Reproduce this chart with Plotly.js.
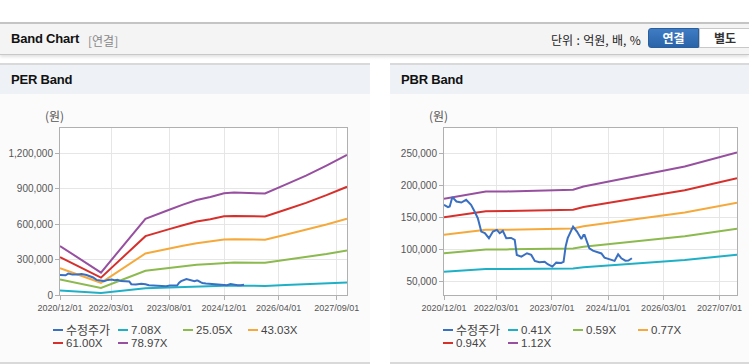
<!DOCTYPE html>
<html>
<head>
<meta charset="utf-8">
<script src="https://cdn.plot.ly/plotly-3.0.1.min.js"></script>
<style>
  html, body { margin:0; padding:0; background:#ffffff; width:749px; height:364px; overflow:hidden;
    font-family: "Liberation Sans", "Noto Sans CJK KR", sans-serif; }
  .abs { position:absolute; }
  #topbar { left:0; top:22px; width:749px; height:30px; background:#f4f4f4;
    border-top:2px solid #c4c4c4; border-bottom:1px solid #c8c8c8; box-shadow:0 2px 3px rgba(0,0,0,0.12); }
  #ttl { left:11px; top:31px; font-size:13px; font-weight:bold; color:#111; letter-spacing:-0.2px; }
  #ttl2 { left:88px; top:32px; font-size:12px; color:#888; font-family:"Noto Sans CJK KR", sans-serif; }
  #unit { left:551px; top:31px; font-size:12px; color:#222; font-family:"Noto Sans CJK KR", sans-serif; letter-spacing:-0.1px; word-spacing:1px; }
  #b1 { left:648px; top:28px; width:51px; height:20px; background:linear-gradient(#3f7cc4,#2a63a8); color:#fff;
    font-size:12px; font-weight:bold; text-align:center; line-height:18px; border-radius:3px 0 0 3px; border:1px solid #2a5f9e; box-sizing:border-box;
    font-family:"Noto Sans CJK KR", sans-serif; }
  #b2 { left:699px; top:28px; width:52px; height:20px; background:#fff; color:#333;
    font-size:12px; font-weight:bold; text-align:center; line-height:18px; border:1px solid #c8c8c8; box-sizing:border-box;
    font-family:"Noto Sans CJK KR", sans-serif; }
  .panel { top:63px; height:297px; background:#fbfbfb; border-top:2px solid #d9d9d9; border-bottom:2px solid #d9d9d9; }
  .phead { left:0; top:0; right:0; height:29px; background:#eef1f6; }
  .ptitle { left:11px; top:7px; font-size:13px; font-weight:bold; color:#111; letter-spacing:-0.2px; }
  .leg { font-size:11.5px; line-height:12px; height:12px; color:#444; white-space:nowrap; }
  .legline { position:absolute; width:10px; height:2px; }
</style>
</head>
<body>
<div id="topbar" class="abs"></div>
<div id="ttl" class="abs">Band Chart</div>
<div id="ttl2" class="abs">[연결]</div>
<div id="unit" class="abs">단위 : 억원, 배, %</div>
<div id="b1" class="abs">연결</div>
<div id="b2" class="abs">별도</div>

<div class="abs panel" style="left:0;width:370px;">
  <div class="abs phead"></div>
  <div class="abs ptitle">PER Band</div>
</div>
<div class="abs panel" style="left:390px;width:359px;">
  <div class="abs phead"></div>
  <div class="abs ptitle">PBR Band</div>
</div>

<div id="per" class="abs" style="left:0;top:93px;width:370px;height:268px;"></div>
<div id="pbr" class="abs" style="left:390px;top:93px;width:359px;height:268px;"></div>
<div id="legper"></div>
<div id="legpbr"></div>

<script>
// ---------- data ----------
const priceDates = ['2020-12-01','2021-01-05','2021-01-20','2021-02-12','2021-03-20','2021-05-01','2021-06-12','2021-07-25','2021-08-25','2021-09-22','2021-10-22','2021-11-22','2021-12-28','2022-02-01','2022-03-07','2022-04-01','2022-04-28','2022-05-28','2022-07-10','2022-08-10','2022-08-28','2022-10-07','2022-11-25','2023-01-01','2023-02-01','2023-03-13','2023-04-28','2023-05-25','2023-07-04','2023-08-07','2023-09-19','2023-10-10','2023-10-28','2023-11-15','2024-01-01','2024-02-04','2024-03-13','2024-04-01','2024-04-10','2024-05-10','2024-05-22','2024-06-22','2024-08-04','2024-09-04','2024-10-01','2024-11-15','2024-12-28','2025-01-28','2025-02-25','2025-04-01','2025-04-28','2025-05-28'];
const price = [169500,166000,166800,181500,174600,173000,177300,169500,159000,148700,127900,125400,117600,127900,130500,125400,129000,117600,118000,115000,91600,89000,94200,91600,82300,80200,81000,77100,73400,79600,79000,80700,104500,117600,135700,127900,116500,122700,122700,107200,102000,98300,95200,93900,87400,84900,82300,92700,86400,82700,82800,86400];

const perDates = ['2020-12-01','2021-12-01','2023-01-01','2023-04-01','2023-08-01','2023-12-01','2024-04-01','2024-08-01','2024-12-01','2025-03-01','2025-12-01','2026-06-01','2026-12-01','2027-06-01','2027-12-01'];
const per708 = [37200,17000,57800,61000,64700,68600,72200,74400,77300,77700,77100,83800,90500,98200,106300];
const per2505 = [131600,60300,204600,215700,229000,242700,255400,263300,273400,275000,272800,296600,320400,347300,376200];
const per4303 = [226100,103500,351500,370500,393400,416800,438600,452300,469700,472400,468600,509500,550300,596700,646200];
const per6100 = [320600,146800,498200,525300,557700,590900,621800,641100,665900,669700,664300,722200,780200,845800,916100];
const per7897 = [415000,190000,645000,680000,722000,765000,805000,830000,862000,867000,860000,935000,1010000,1095000,1186000];

const pbrDates = ['2020-12-01','2021-12-01','2022-06-01','2023-06-01','2024-01-01','2024-04-01','2025-06-01','2026-09-01','2027-12-01'];
const pbr041 = [65500,69600,69700,70000,70600,72500,78000,83800,91900];
const pbr059 = [94300,100100,100200,100700,101600,104300,112200,120600,132200];
const pbr077 = [123100,130600,130800,131500,132600,136100,146400,157400,172600];
const pbr094 = [150200,159500,159700,160500,161800,166200,178800,192200,210700];
const pbr112 = [179000,190000,190300,191200,192800,198000,213000,229000,251000];

const perNames = ['수정주가','7.08X','25.05X','43.03X','61.00X','78.97X'];
const pbrNames = ['수정주가','0.41X','0.59X','0.77X','0.94X','1.12X'];
const colors = ['#3a70c2','#1fb0c6','#8cba4e','#f5a93b','#d6302c','#97509f'];

const perTickVals = ['2020-12-01','2022-03-01','2023-08-01','2024-12-01','2026-04-01','2027-09-01'];
const perTickText = ['2020/12/01','2022/03/01','2023/08/01','2024/12/01','2026/04/01','2027/09/01'];
const pbrTickVals = ['2020-12-01','2022-03-01','2023-07-01','2024-11-01','2026-03-01','2027-07-01'];
const pbrTickText = ['2020/12/01','2022/03/01','2023/07/01','2024/11/01','2026/03/01','2027/07/01'];
const perYTicks = [0,300000,600000,900000,1200000];
const pbrYTicks = [50000,100000,150000,200000,250000];
const unitLabel = '(원)';

// ---------- drawing ----------
const xTickFont = {family:'"Liberation Sans",Arial,sans-serif', size:9, color:'#555'};
const yTickFont = {family:'"Liberation Sans",Arial,sans-serif', size:10, color:'#555'};

function mkTraces(bandDates, bands, names) {
  const tr = [];
  bands.forEach((b, i) => {
    tr.push({x: bandDates, y: b, type:'scatter', mode:'lines', name:names[i+1],
      line:{color:colors[i+1], width:2}, hoverinfo:'skip'});
  });
  tr.push({x: priceDates, y: price, type:'scatter', mode:'lines', name:names[0],
    line:{color:colors[0], width:2}, hoverinfo:'skip'});
  return tr;
}

function mkLayout(ml, mr, yrange, yticks, tv, tt) {
  return {
    autosize:true,
    margin:{l:ml, r:mr, t:35, b:66, pad:0},
    paper_bgcolor:'rgba(0,0,0,0)', plot_bgcolor:'#ffffff',
    showlegend:false,
    xaxis:{type:'date', range:['2020-12-01','2027-12-01'], tickmode:'array', tickvals:tv, ticktext:tt, tickangle:0,
      showgrid:true, gridcolor:'#e6e6e6', gridwidth:1, showline:true, linecolor:'#b0b0b0', linewidth:1, mirror:true,
      ticks:'outside', ticklen:4, tickcolor:'#b0b0b0', tickfont:xTickFont, zeroline:false, fixedrange:true},
    yaxis:{range:yrange, tickmode:'array', tickvals:yticks, tickformat:',d',
      showgrid:true, gridcolor:'#e6e6e6', gridwidth:1, showline:true, linecolor:'#b0b0b0', linewidth:1, mirror:true,
      ticks:'outside', ticklen:4, tickcolor:'#b0b0b0', tickfont:yTickFont, zeroline:false, fixedrange:true},
    annotations:[{text:unitLabel, xref:'paper', yref:'paper', x:0, y:1, xanchor:'center', yanchor:'bottom',
      xshift:-6, yshift:2, showarrow:false, font:{family:'"Noto Sans CJK KR",sans-serif', size:12, color:'#555'}}]
  };
}

Plotly.newPlot('per', mkTraces(perDates, [per708, per2505, per4303, per6100, per7897], perNames),
  mkLayout(60, 23, [0, 1414000], perYTicks, perTickVals, perTickText), {staticPlot:true, displayModeBar:false});
Plotly.newPlot('pbr', mkTraces(pbrDates, [pbr041, pbr059, pbr077, pbr094, pbr112], pbrNames),
  mkLayout(54, 12, [29300, 288900], pbrYTicks, pbrTickVals, pbrTickText), {staticPlot:true, displayModeBar:false});

// legends
function buildLegend(id, names, x0) {
  const host = document.getElementById(id);
  names.forEach((n, i) => {
    const col = i % 4, row = Math.floor(i / 4);
    const lx = x0 + col * 65, ly = (row === 0 ? 330 : 343);
    const ln = document.createElement('div');
    ln.className = 'legline';
    ln.style.left = lx + 'px'; ln.style.top = (ly - 1) + 'px'; ln.style.background = colors[i];
    host.appendChild(ln);
    const t = document.createElement('div');
    t.className = 'abs leg';
    t.style.left = (lx + 13) + 'px'; t.style.top = (ly - 6) + 'px';
    if (i === 0) { t.style.fontFamily = '"Noto Sans CJK KR",sans-serif'; t.style.fontSize = '12px'; }
    t.textContent = n;
    host.appendChild(t);
  });
}
buildLegend('legper', perNames, 53);
buildLegend('legpbr', pbrNames, 443);
</script>
</body>
</html>
